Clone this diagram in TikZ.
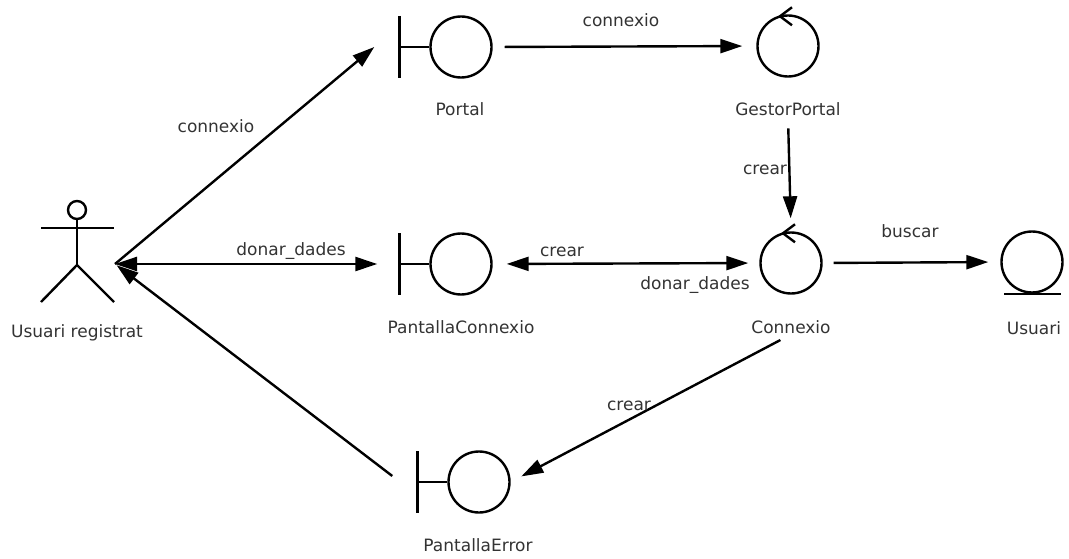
\documentclass[tikz,border=0pt]{standalone}
\usepackage{fontspec}
\setmainfont{DejaVu Sans}
\usetikzlibrary{arrows.meta}

\begin{document}
\begin{tikzpicture}[x=1pt,y=-1pt,line width=2.4pt,
    ball/.style={draw,circle,minimum size=61pt,inner sep=0pt},
    lbl/.style={inner sep=0pt,anchor=base,text=black!80,font=\fontsize{17}{20}\selectfont},
    msg/.style={-{Triangle[length=22pt,width=14pt]}},
    msgboth/.style={{Triangle[length=22pt,width=14pt]}-{Triangle[length=22pt,width=14pt]}}]

    % fix the page size
    \useasboundingbox (0,0) rectangle (1069,559);

    % actor
    \node[draw,circle,minimum size=18pt,inner sep=0pt] (head) at (77,210) {};
    \draw (head.south) -- (77,265) coordinate (hip);
    \draw (41,228) -- (114,228);
    \draw (41,302) -- (hip) -- (114,302);
    \coordinate (actor) at (115,264);
    \node[lbl] (actorL) at (77,337) {Usuari registrat};

    % boundaries
    \node[ball] (portal) at (461,47) {};
    \node[ball] (pconn) at (461,264) {};
    \node[ball] (perr) at (479,482) {};
    \foreach \b in {portal,pconn,perr}
        \draw (\b.west) -- ++(-30,0) ++(0,-31) -- ++(0,62);
    \node[lbl] (portalL) at (460,116) {Portal};
    \node[lbl] (pconnL) at (461,333) {PantallaConnexio};
    \node[lbl] (perrL) at (478,551) {PantallaError};

    % controls
    \node[ball] (gestor) at (788,46) {};
    \node[ball] (connexio) at (791,263) {};
    \foreach \c in {gestor,connexio}
        \draw (\c.north) ++(4,-7) -- ++(-12,9) -- ++(12,9);
    \node[lbl] (gestorL) at (788,116) {GestorPortal};
    \node[lbl] (connexioL) at (791,333) {Connexio};

    % entity
    \node[ball] (usuari) at (1032,262) {};
    \draw ([xshift=-28pt]usuari.south) -- ++(57,0);
    \node[lbl] (usuariL) at (1034,334) {Usuari};

    % messages
    \draw[msg] (actor) -- ([xshift=-55pt]portal.west);
    \node[lbl] (m1) at (216,133) {connexio};
    \draw[msg,shorten <=12pt,shorten >=14pt] (portal.east) -- (gestor.west);
    \node[lbl] (m2) at (621,27) {connexio};
    \draw[msg,shorten <=11pt,shorten >=13pt] (gestorL.south) -- (connexio.north);
    \node[lbl] (m3) at (765,175) {crear};
    \draw[msgboth] (actor) -- ([xshift=-52pt]pconn.west);
    \node[lbl] (m4) at (291,255) {donar\_dades};
    \draw[msgboth,shorten <=11pt,shorten >=14pt] (connexio.west) -- (pconn.east);
    \node[lbl] (m5) at (562,256) {crear};
    \node[lbl] (m6) at (695,289) {donar\_dades};
    \draw[msg,shorten <=11pt,shorten >=12pt] (connexio.east) -- (usuari.west);
    \node[lbl] (m7) at (910,237) {buscar};
    \draw[msg,shorten <=12pt,shorten >=12pt] (connexioL.south) -- (perr.east);
    \node[lbl] (m8) at (629,410) {crear};
    \draw[msg,shorten >=2pt] ([shift={(-25,-6)}]perr.west) ++(-30,0) -- (actor);

\end{tikzpicture}
\end{document}
